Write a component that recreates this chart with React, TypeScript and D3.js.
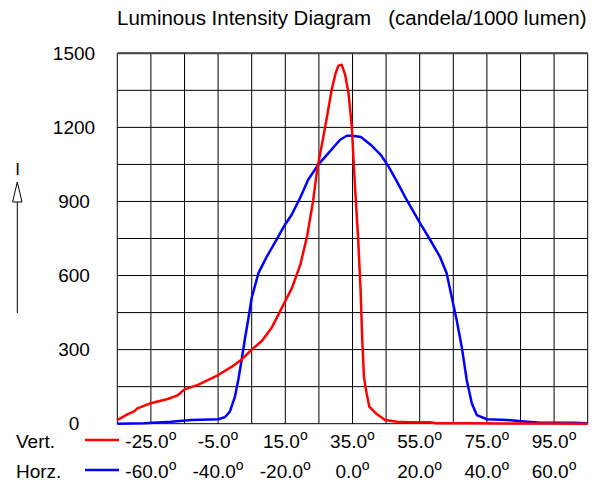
import React from 'react'
import * as d3 from 'd3'

// vertical plane (red): angle in degrees, intensity in cd/1000 lm
const vertAngles = [-35, -32, -30, -29, -25, -20, -17, -15, -11, -5, -1, 2, 5, 8, 11, 14, 17, 19.5, 21.5, 23.3, 24.5, 26.3, 27.5, 28.8, 30, 30.8, 31.8, 32.8, 33.8, 34.8, 35.3, 35.8, 36.7, 37.4, 37.9, 38.4, 39, 40, 42.2, 44.7, 48.2, 52, 58, 60, 70, 80, 90, 105]
const vertValues = [15, 38, 50, 62, 83, 100, 115, 139, 157, 197, 230, 260, 300, 335, 390, 470, 550, 645, 760, 905, 1030, 1160, 1250, 1353, 1420, 1450, 1454, 1414, 1339, 1204, 1069, 947, 745, 542, 339, 191, 137, 69, 39, 15, 8, 6, 6, 2, 2, 1, 1, 0]

// horizontal plane (blue)
const horzAngles = [-70, -62, -54, -48, -40, -38, -36.5, -35, -34, -33, -32, -31, -30, -28, -26.5, -25.5, -22.6, -20.1, -18.1, -15.6, -13.2, -10.2, -6.7, -3.7, -1.7, 0, 2.5, 5.4, 8.4, 10.7, 13.2, 16.1, 20.1, 23.1, 26, 28, 29.5, 31, 32.5, 34, 35.5, 37, 40, 46, 52, 56, 66, 70]
const horzValues = [0, 2, 8, 15, 18, 26, 49, 109, 177, 258, 345, 425, 510, 610, 650, 677, 745, 806, 846, 914, 988, 1049, 1103, 1150, 1166, 1166, 1161, 1130, 1089, 1042, 981, 907, 812, 745, 677, 610, 515, 420, 312, 177, 83, 35, 18, 15, 8, 4, 4, 2]

const yTicks = [0, 300, 600, 900, 1200, 1500]
const vertTicks = [-25, -5, 15, 35, 55, 75, 95]
const horzTicks = [-60, -40, -20, 0, 20, 40, 60]

const W = 610
const H = 491
const left = 117.3
const right = 587.7
const top = 53.3
const bottom = 423.7
const font = '"Liberation Sans", Arial, sans-serif'

const App = () => {
  const xH = d3.scaleLinear().domain([-70, 70]).range([left, right])
  const xV = d3.scaleLinear().domain([-35, 105]).range([left, right])
  const y = d3.scaleLinear().domain([0, 1500]).range([bottom, top])

  const vLine = d3.line<number>()
    .x((d, i) => xV(vertAngles[i]))
    .y(d => y(d))
  const hLine = d3.line<number>()
    .x((d, i) => xH(horzAngles[i]))
    .y(d => y(d))

  const gridX = d3.range(-70, 71, 10)
  const gridY = d3.range(0, 1501, 150)

  const deg = (v: number, x: number, yy: number, key: string) => (
    <text key={key} x={x} y={yy} fontSize={19} textAnchor="middle">
      {v.toFixed(1)}
      <tspan fontSize={14} dy={-8}>o</tspan>
    </text>
  )

  return (
    <svg width={W} height={H} style={{ position: 'absolute', left: 0, top: 0, background: '#fff' }} fontFamily={font}>
      <text x={117} y={25} fontSize={20.5} style={{ whiteSpace: 'pre' }}>
        Luminous Intensity Diagram   (candela/1000 lumen)
      </text>

      {/* grid */}
      <g stroke="#000" strokeWidth={1}>
        {gridX.map(v => (
          <line key={'gx' + v} x1={xH(v)} x2={xH(v)} y1={top} y2={bottom} />
        ))}
        {gridY.map(v => (
          <line key={'gy' + v} x1={left} x2={right} y1={y(v)} y2={y(v)} />
        ))}
      </g>
      <line x1={left} x2={right} y1={top} y2={top} stroke="#444" strokeWidth={2} />

      {/* y ticks */}
      {yTicks.map(v => (
        <text key={'yt' + v} x={74} y={y(v)} dy="0.35em" fontSize={19} textAnchor="middle">{v}</text>
      ))}

      {/* I arrow */}
      <text x={17.5} y={175} fontSize={17} textAnchor="middle">I</text>
      <path d="M17.3,182 L12.6,202 L22,202 Z" fill="#fff" stroke="#000" strokeWidth={1} />
      <line x1={17.3} x2={17.3} y1={202} y2={313} stroke="#000" strokeWidth={1} />

      {/* curves */}
      <path d={hLine(horzValues) || ''} fill="none" stroke="#0000ff" strokeWidth={2.5} strokeLinejoin="round" />
      <path d={vLine(vertValues) || ''} fill="none" stroke="#ff0000" strokeWidth={2.5} strokeLinejoin="round" />

      {/* legend + x labels */}
      <text x={16} y={448} fontSize={19}>Vert.</text>
      <line x1={85} x2={119} y1={440} y2={440} stroke="#ff0000" strokeWidth={2.5} />
      {vertTicks.map(v => deg(v, xV(v), 448, 'vt' + v))}

      <text x={16} y={478} fontSize={19}>Horz.</text>
      <line x1={85} x2={119} y1={470} y2={470} stroke="#0000ff" strokeWidth={2.5} />
      {horzTicks.map(v => deg(v, xH(v), 478, 'ht' + v))}
    </svg>
  )
}

export default App
